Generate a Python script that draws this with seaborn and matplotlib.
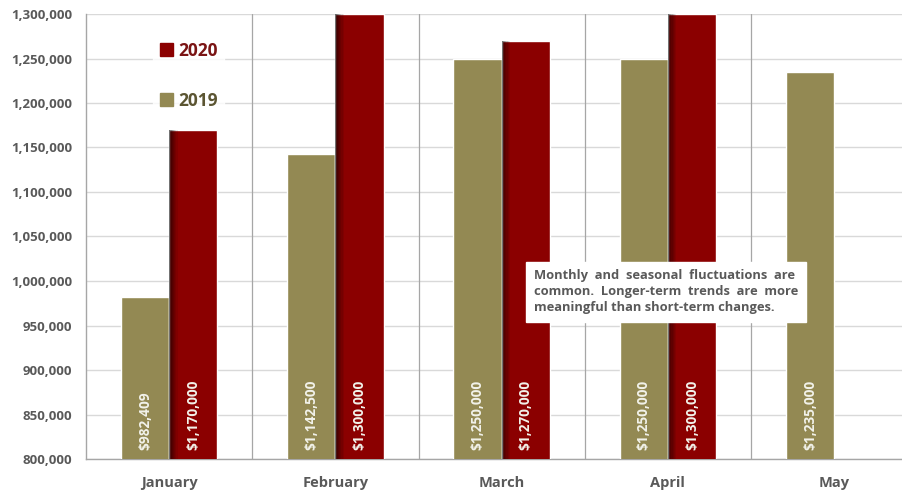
import matplotlib
matplotlib.use("Agg")
import matplotlib.pyplot as plt
import seaborn as sns
import pandas as pd
import numpy as np
from matplotlib.ticker import FuncFormatter
from matplotlib.patches import Patch

months = ["January", "February", "March", "April", "May"]
values_2019 = [982409, 1142500, 1250000, 1250000, 1235000]
values_2020 = [1170000, 1300000, 1270000, 1300000, np.nan]
labels_2019 = ["$982,409", "$1,142,500", "$1,250,000", "$1,250,000", "$1,235,000"]
labels_2020 = ["$1,170,000", "$1,300,000", "$1,270,000", "$1,300,000", ""]
yticks = list(range(800000, 1300001, 50000))
note = ("Monthly  and  seasonal  fluctuations  are\n"
        "common.  Longer-term  trends  are  more\n"
        "meaningful than short-term changes.")

sns.set_theme(style="white")
plt.rcParams['font.family'] = ['Open Sans', 'DejaVu Sans']

df = pd.DataFrame({
    "Month": months * 2,
    "Year": ["2019"] * 5 + ["2020"] * 5,
    "Value": values_2019 + values_2020,
})

fig = plt.figure(figsize=(9.02, 4.98), dpi=100)
ax = fig.add_axes([86 / 902, 1 - 459 / 498, 1 - 86 / 902, (459 - 14) / 498])

palette = {"2019": "#938953", "2020": "#8B0000"}
sns.barplot(data=df, x="Month", y="Value", hue="Year", hue_order=["2019", "2020"],
            order=months, palette=palette, width=0.58, saturation=1,
            ax=ax, legend=False, zorder=3)

ax.set_ylim(800000, 1300000)
ax.set_xlim(-0.5, -0.5 + 816 / 166.25)
ax.set_yticks(yticks)
ax.yaxis.set_major_formatter(FuncFormatter(lambda v, p: f"{int(v):,}"))
ax.grid(axis="y", color="#d9d9d9", linewidth=1, zorder=0)
for b in np.arange(0.5, 5, 1):
    ax.axvline(b, color="#a6a6a6", linewidth=0.9, zorder=1)

for s in ["top", "right"]:
    ax.spines[s].set_visible(False)
for s in ["left", "bottom"]:
    ax.spines[s].set_color("#a6a6a6")
    ax.spines[s].set_linewidth(1)

ax.set_xlabel("")
ax.set_ylabel("")
ax.tick_params(axis="y", labelsize=9.5, labelcolor="#595959", length=0, pad=10)
ax.tick_params(axis="x", labelsize=10.5, labelcolor="#595959", length=0, pad=12)
for t in ax.get_yticklabels() + ax.get_xticklabels():
    t.set_fontweight("bold")

containers = ax.containers
for cont, labs in zip(containers, [labels_2019, labels_2020]):
    for bar, lab in zip(cont, labs):
        if not lab:
            continue
        x = bar.get_x() + bar.get_width() / 2
        ax.text(x, 810000, lab, rotation=90, ha="center", va="bottom",
                color="#f2f2ea", fontsize=9.8, fontweight="bold", zorder=5)

# shading on left edge of 2020 bars
for bar in containers[1]:
    h = bar.get_height()
    if np.isnan(h):
        continue
    x0 = bar.get_x()
    w = bar.get_width()
    for i, a in enumerate(np.linspace(0.55, 0.0, 8)):
        ax.add_patch(plt.Rectangle((x0 + i * w * 0.025, 800000), w * 0.025, h - 800000,
                                   color="black", alpha=a, linewidth=0, zorder=4))

handles = [Patch(color="#8B0000"), Patch(color="#938953")]
leg = ax.legend(handles, ["2020", "2019"], loc="upper left",
                bbox_to_anchor=(58 / 816, 1 - 12 / 445), frameon=True,
                fontsize=12.5, labelspacing=1.85, handlelength=0.75, handleheight=0.75,
                handletextpad=0.3, borderpad=0.4)
leg.get_frame().set_facecolor("white")
leg.get_frame().set_edgecolor("white")
leg.set_zorder(6)
for txt, c in zip(leg.get_texts(), ["#7a1414", "#5b5532"]):
    txt.set_color(c)
    txt.set_fontweight("bold")

fig.text(534 / 902, 1 - 292 / 498, note, ha="left", va="center", fontsize=9.3,
         fontweight="bold", color="#595959", linespacing=1.3, zorder=10,
         bbox=dict(facecolor="white", edgecolor="white", boxstyle="square,pad=0.6"))

fig.savefig("out.png", dpi=100)
